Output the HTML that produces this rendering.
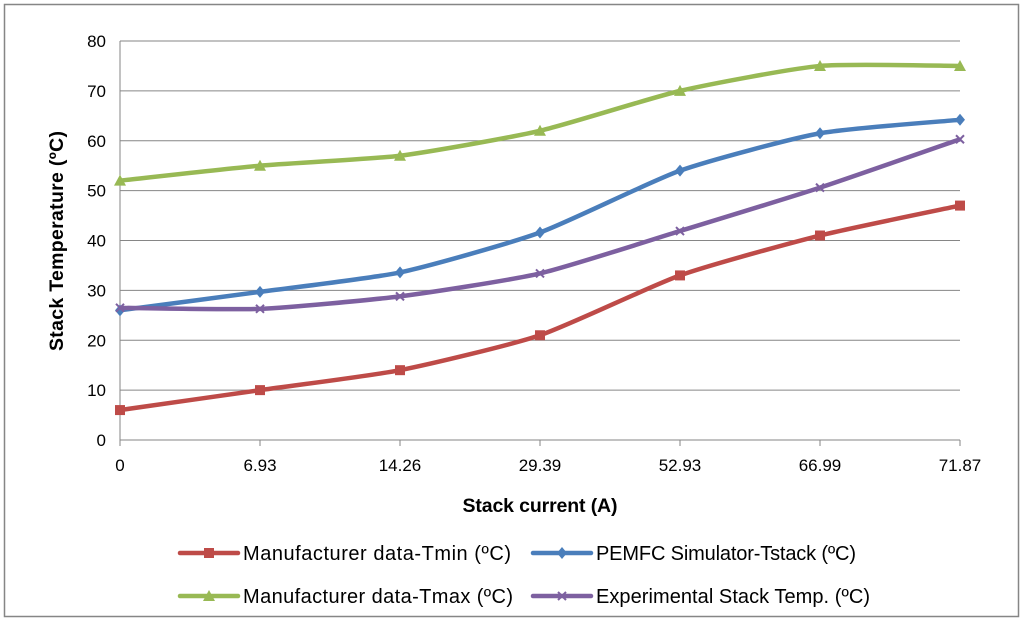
<!DOCTYPE html>
<html><head><meta charset="utf-8"><style>
body{margin:0;background:#fff;}
svg text{font-family:"Liberation Sans",sans-serif;}
</style></head><body>
<svg id="c" width="1024" height="623" xmlns="http://www.w3.org/2000/svg">
<rect x="4.5" y="4.5" width="1014" height="612" fill="#fff" stroke="#868686" stroke-width="1.5"/>
<g id="grid"></g><g id="series"></g><g id="ticks"></g>
<text x="540" y="512" font-size="19.5" font-weight="bold" text-anchor="middle" textLength="155">Stack current (A)</text>
<text transform="translate(63,241) rotate(-90)" font-size="19.5" font-weight="bold" text-anchor="middle" textLength="220">Stack Temperature (ºC)</text>
<g id="legend"></g>
</svg>
<script>
const categories=["0","6.93","14.26","29.39","52.93","66.99","71.87"];
const yTicks=[0,10,20,30,40,50,60,70,80];
const tmin=[6,10,14,21,33,41,47];
const tstack=[26,29.7,33.6,41.6,54,61.5,64.2];
const tmax=[52,55,57,62,70,75,75];
const texp=[26.5,26.3,28.8,33.4,41.9,50.6,60.3];
const NS="http://www.w3.org/2000/svg";
const X0=120,X1=960,Y0=440,Y1=41;
const x=i=>X0+i*(X1-X0)/(categories.length-1);
const y=v=>Y0-v*(Y0-Y1)/80;
function mk(t,a,p){const e=document.createElementNS(NS,t);for(const k in a)e.setAttribute(k,a[k]);p.appendChild(e);return e;}
const grid=document.getElementById('grid'),ticks=document.getElementById('ticks');
yTicks.forEach(v=>{
 const l=mk('line',{x1:X0,x2:X1,y1:y(v),y2:y(v),stroke:'#868686','stroke-width':1},grid);
 
 
 const t=mk('text',{x:X0-14,y:y(v)+6,'font-size':17,'text-anchor':'end'},ticks);t.textContent=v;
 
 
});
mk('line',{x1:X0,x2:X0,y1:Y1,y2:Y0,stroke:'#868686'},grid);
categories.forEach((c,i)=>{
 mk('line',{x1:x(i),x2:x(i),y1:Y0,y2:Y0+6,stroke:'#868686'},grid);
 const t=mk('text',{x:x(i),y:Y0+31,'font-size':17,'text-anchor':'middle'},ticks);t.textContent=c;
 
 
});
function smooth(vals){
 const p=vals.map((v,i)=>[x(i),y(v)]);let d='M'+p[0][0]+','+p[0][1];
 const k=10;
 for(let i=0;i<p.length-1;i++){const a=p[i-1]||p[i],b=p[i],c=p[i+1],e=p[i+2]||c;
  d+=` C${b[0]+(c[0]-a[0])/k},${b[1]+(c[1]-a[1])/k} ${c[0]-(e[0]-b[0])/k},${c[1]-(e[1]-b[1])/k} ${c[0]},${c[1]}`;}
 return d;}
function marker(g,type,cx,cy,col){
 if(type==='sq')mk('rect',{x:cx-5,y:cy-5,width:10,height:10,fill:col},g);
 else if(type==='di')mk('path',{d:`M${cx},${cy-6}L${cx+5},${cy}L${cx},${cy+6}L${cx-5},${cy}Z`,fill:col},g);
 else if(type==='tr')mk('path',{d:`M${cx},${cy-6}L${cx+6},${cy+5}L${cx-6},${cy+5}Z`,fill:col},g);
 else mk('path',{d:`M${cx-4},${cy-4}L${cx+4},${cy+4}M${cx+4},${cy-4}L${cx-4},${cy+4}`,stroke:col,'stroke-width':2},g);
}
const S=[[tmin,'#BE4B48','sq','Manufacturer data-Tmin (ºC)',180,553,'series-tmin',268],
 [tstack,'#4A7EBB','di','PEMFC Simulator-Tstack (ºC)',533,553,'series-tstack',260],
 [tmax,'#98B954','tr','Manufacturer data-Tmax (ºC)',180,596,'series-tmax',270],
 [texp,'#7D60A0','x','Experimental Stack Temp. (ºC)',533,596,'series-experimental',274]];
const sg=document.getElementById('series'),lg=document.getElementById('legend');
S.forEach(([vals,col,m,label,lx,ly,name,tw])=>{
 const g=mk('g',{},sg);
 
 
 mk('path',{d:smooth(vals),fill:'none',stroke:col,'stroke-width':4.5,'stroke-linejoin':'round'},g);
 vals.forEach((v,i)=>marker(g,m,x(i),y(v),col));
 const e=mk('g',{},lg);
 
 
 mk('line',{x1:lx,x2:lx+58,y1:ly,y2:ly,stroke:col,'stroke-width':4.5,'stroke-linecap':'round'},e);
 marker(e,m,lx+29,ly,col);
 const t=mk('text',{x:lx+63,y:ly+7,'font-size':20,textLength:tw},e);t.textContent=label;
});
</script>
</body></html>
